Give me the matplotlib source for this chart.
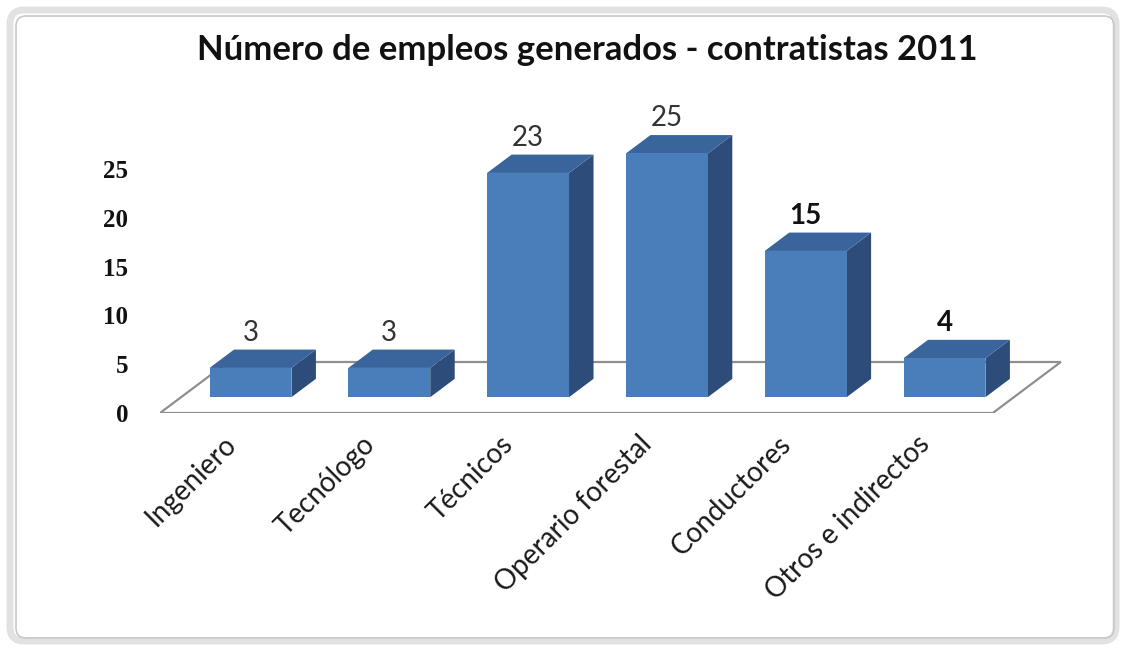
import matplotlib
matplotlib.use("Agg")
import matplotlib.pyplot as plt
from matplotlib.patches import Polygon, FancyBboxPatch
from matplotlib.transforms import IdentityTransform, ScaledTranslation

# ---- data ----
categories = ["Ingeniero", "Tecnólogo", "Técnicos", "Operario forestal",
              "Conductores", "Otros e indirectos"]
values = [3, 3, 23, 25, 15, 4]
yticks = [0, 5, 10, 15, 20, 25]
title = "Número de empleos generados - contratistas 2011"

# ---- style / geometry ----
W, H = 1123, 650
fig = plt.figure(figsize=(W / 100, H / 100), dpi=100)
fig.patch.set_facecolor("white")

# frame
outer = FancyBboxPatch((10, H - 641), 1106, 631, boxstyle="round,pad=0,rounding_size=14",
                       transform=IdentityTransform(), facecolor="none",
                       edgecolor="#e2e2e2", linewidth=5, zorder=-5)
inner = FancyBboxPatch((16, H - 638), 1098, 622, boxstyle="round,pad=0,rounding_size=10",
                       transform=IdentityTransform(), facecolor="none",
                       edgecolor="#c8c8c8", linewidth=1.2, zorder=-5)
fig.patches.extend([outer, inner])

ax_left, ax_right, ax_bottom_px, ax_top_px = 160, 1080, 413, 120
ax = fig.add_axes([ax_left / W, (H - ax_bottom_px) / H,
                   (ax_right - ax_left) / W, (ax_bottom_px - ax_top_px) / H])
ax.set_zorder(2)
ax.set_facecolor("none")
px_per_cat = 138.8
px_per_val = 9.75
ax.set_xlim(0, (ax_right - ax_left) / px_per_cat)
ax.set_ylim(0, (ax_bottom_px - ax_top_px) / px_per_val)
for s in ax.spines.values():
    s.set_visible(False)

n = len(categories)
dx = 68 / px_per_cat       # depth offset in x (data units)
dy = 51 / px_per_val       # depth offset in y (data units)
z0, z1 = 0.31, 0.67        # bar depth range
bw = 0.59

front_c = "#4a7ebb"
top_c = "#3a649c"
side_c = "#2d4c7a"

# floor
floor = Polygon([(0, 0), (n, 0), (n + dx, dy), (dx, dy)], closed=True,
                facecolor="white", edgecolor="#8f8f8f", linewidth=1.6, zorder=1)
ax.add_patch(floor)

xc = [i + 0.5 for i in range(n)]
fx = [x + z0 * dx for x in xc]
bars = ax.bar(fx, values, width=bw, bottom=z0 * dy, color=front_c,
              edgecolor="none", zorder=4)

ddx = (z1 - z0) * dx
ddy = (z1 - z0) * dy
for b, v, x in zip(bars, values, fx):
    l = b.get_x(); r = l + b.get_width()
    bot = b.get_y(); top = bot + b.get_height()
    side = Polygon([(r, bot), (r + ddx, bot + ddy), (r + ddx, top + ddy), (r, top)],
                   closed=True, facecolor=side_c, edgecolor="none", zorder=3)
    topf = Polygon([(l, top), (r, top), (r + ddx, top + ddy), (l + ddx, top + ddy)],
                   closed=True, facecolor=top_c, edgecolor="none", zorder=3)
    ax.add_patch(side); ax.add_patch(topf)

# value labels
label_bold = [False, False, False, False, True, True]
for x, v, bold in zip(fx, values, label_bold):
    ax.annotate(str(v), (x, v + z1 * dy), xytext=(0, 4), textcoords="offset pixels",
                ha="center", va="bottom", fontsize=20,
                fontweight="bold" if bold else "normal", family="Lato",
                color="#111111" if bold else "#333333", zorder=6)

# axes ticks
ax.set_yticks(yticks)
ax.set_yticklabels([str(t) for t in yticks], family="Liberation Serif",
                   fontweight="bold", fontsize=18, color="#111111")
ax.tick_params(axis="y", length=0, pad=23)

ax.set_xticks(xc)
ax.set_xticklabels(categories, rotation=45, ha="right", rotation_mode="anchor",
                   family="Lato", fontsize=20, color="#1a1a1a")
ax.tick_params(axis="x", length=0, pad=13)
shift = ScaledTranslation(-7 / 100, 0, fig.dpi_scale_trans)
for lab in ax.get_xticklabels():
    lab.set_transform(lab.get_transform() + shift)

fig.text(587 / W, 1 - 50 / H, title, ha="center", va="center",
         family="Lato", fontweight="bold", fontsize=24.9, color="#111111")

fig.savefig("out.png", dpi=100, facecolor="white")
